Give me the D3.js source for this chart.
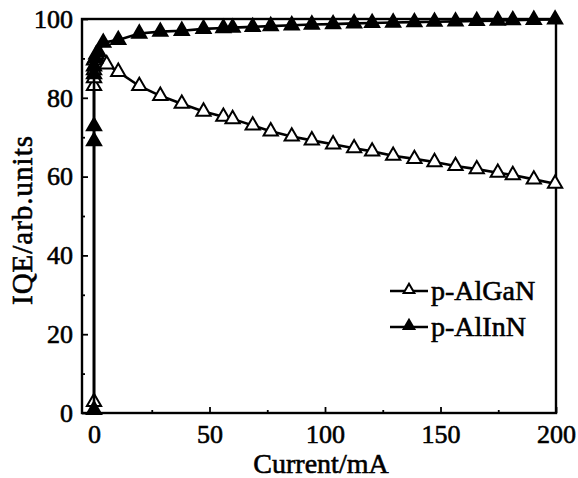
<!DOCTYPE html>
<html><head><meta charset="utf-8">
<script src="https://cdn.jsdelivr.net/npm/d3@7"></script>
<style>body{margin:0;background:#fff}svg{display:block}</style>
</head><body>
<svg id="c" width="578" height="478"></svg>
<script>
const xTicks = [0, 50, 100, 150, 200];
const yTicks = [0, 20, 40, 60, 80, 100];
const algaNCurrent = [0, 0, 0, 0, 0, 1, 5.5, 10.5, 19.6, 28.7, 38, 47.4, 56, 60, 68.7, 76.5, 85.6, 94.3, 103.5, 112.6, 120.4, 129.5, 138.7, 147.4, 156.5, 165.7, 174.8, 181.3, 190.4, 199.6];
const algaNIQE = [2.8, 83, 85, 87, 89.5, 91, 88.5, 86.6, 83, 80.5, 78.5, 76.5, 75.2, 74.6, 73, 71.5, 70.2, 69.2, 68.2, 67.2, 66.4, 65.3, 64.5, 63.7, 62.7, 61.9, 61.0, 60.4, 59.3, 58.2];
const alinNCurrent = [0, 0, 0, 0, 0, 0.5, 2, 4, 10.5, 19.6, 28.7, 38, 47.4, 56, 60, 68.7, 76.5, 85.6, 94.3, 103.5, 112.6, 120.4, 129.5, 138.7, 147.4, 156.5, 165.7, 174.8, 181.3, 190.4, 199.6];
const alinNIQE = [0.8, 69, 72.8, 86, 88, 90, 91.5, 94, 94.7, 96.3, 96.8, 97.0, 97.5, 97.7, 97.8, 98.0, 98.2, 98.4, 98.6, 98.7, 98.9, 99.0, 99.1, 99.2, 99.3, 99.4, 99.5, 99.6, 99.7, 99.8, 99.9];
const seriesNames = ["p-AlGaN", "p-AlInN"];

const svg = d3.select("#c");
const L = 82, R = 556, T = 19, B = 413;
const x = d3.scaleLinear().domain([-5.2, 200]).range([L, R]);
const y = d3.scaleLinear().domain([0, 100]).range([B, T]);
const font = "'Liberation Serif', 'Times New Roman', serif";

function styleText(sel, size) {
  sel.attr("font-family", font).attr("font-size", size).attr("fill", "#000")
    .attr("stroke", "#000").attr("stroke-width", 0.6);
}

// frame
svg.append("rect").attr("x", L).attr("y", T).attr("width", R - L).attr("height", B - T)
  .attr("fill", "none").attr("stroke", "#000").attr("stroke-width", 2.4);

// axes with inward ticks
const xAx = svg.append("g").attr("transform", `translate(0,${B})`)
  .call(d3.axisBottom(x).tickValues(xTicks).tickSize(-6).tickPadding(12).tickFormat(d3.format("d")));
const xMinor = svg.append("g").attr("transform", `translate(0,${B})`)
  .call(d3.axisBottom(x).tickValues([25, 75, 125, 175]).tickSize(-3).tickFormat(""));
const yAx = svg.append("g").attr("transform", `translate(${L},0)`)
  .call(d3.axisLeft(y).tickValues(yTicks).tickSize(-6).tickPadding(9).tickFormat(d3.format("d")));
const yMinor = svg.append("g").attr("transform", `translate(${L},0)`)
  .call(d3.axisLeft(y).tickValues([10, 30, 50, 70, 90]).tickSize(-3).tickFormat(""));
[xAx, xMinor, yAx, yMinor].forEach(g => {
  g.select(".domain").remove();
  g.selectAll("line").attr("stroke", "#000").attr("stroke-width", 1.8);
  styleText(g.selectAll("text"), 26);
});
xAx.selectAll("text").attr("dy", "0.71em");

// axis titles
styleText(svg.append("text").attr("x", (L + R) / 2 + 2).attr("y", 473).attr("text-anchor", "middle")
  .text("Current/mA"), 28);
styleText(svg.append("text").attr("transform", `translate(32,${(T + B) / 2 + 4}) rotate(-90)`).attr("text-anchor", "middle")
  .attr("letter-spacing", 1).text("IQE/arb.units"), 29);

const line = d3.line().x(d => x(d[0])).y(d => y(d[1]));
const tri = d3.symbol().type(d3.symbolTriangle).size(88);
const triLeg = d3.symbol().type(d3.symbolTriangle).size(50);

function drawSeries(xs, ys, filled) {
  const pts = xs.map((v, i) => [v, ys[i]]);
  svg.append("path").datum(pts).attr("d", line).attr("fill", "none")
    .attr("stroke", "#000").attr("stroke-width", 2.6);
  svg.append("g").selectAll("path").data(pts).join("path")
    .attr("d", tri).attr("transform", d => `translate(${x(d[0])},${y(d[1])})`)
    .attr("fill", filled ? "#000" : "#fff").attr("stroke", "#000").attr("stroke-width", 2);
}
drawSeries(algaNCurrent, algaNIQE, false);
drawSeries(alinNCurrent, alinNIQE, true);

// legend
const legY = [291, 327];
seriesNames.forEach((name, i) => {
  const g = svg.append("g");
  g.append("line").attr("x1", 390).attr("x2", 428).attr("y1", legY[i]).attr("y2", legY[i])
    .attr("stroke", "#000").attr("stroke-width", 2.6);
  g.append("path").attr("d", triLeg).attr("transform", `translate(409,${legY[i] - 1})`)
    .attr("fill", i ? "#000" : "#fff").attr("stroke", "#000").attr("stroke-width", 2);
  styleText(g.append("text").attr("x", 431).attr("y", legY[i] + 9).text(name), 28);
});
</script>
</body></html>
